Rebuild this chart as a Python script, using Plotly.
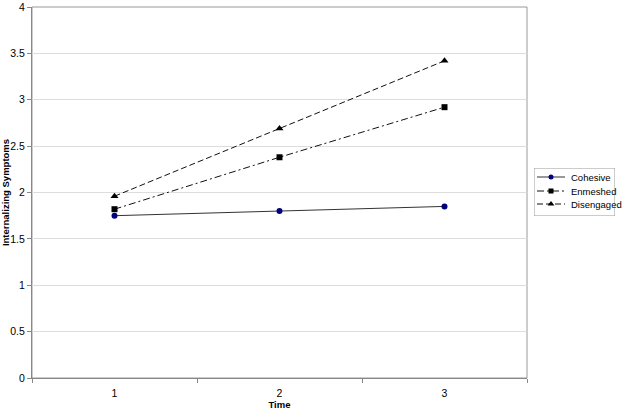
import plotly.graph_objects as go

time_labels = ["1", "2", "3"]
cohesive = [1.75, 1.80, 1.85]
enmeshed = [1.82, 2.38, 2.92]
disengaged = [1.96, 2.69, 3.42]
series_names = ["Cohesive", "Enmeshed", "Disengaged"]

W, H = 625, 414
L, R, T, B = 32, 0, 7, 36
plot_right = 527
pw = W - L - R
ph = H - T - B

styles = [
    dict(line=dict(color="#333333", width=1), marker=dict(symbol="circle", size=6, color="#000080")),
    dict(line=dict(color="#111111", width=1, dash="7px,3px,2px,3px"), marker=dict(symbol="square", size=6, color="#000000")),
    dict(line=dict(color="#111111", width=1, dash="6px,3px"), marker=dict(symbol="triangle-up", size=7, color="#000000")),
]

fig = go.Figure()
for name, vals, st in zip(series_names, [cohesive, enmeshed, disengaged], styles):
    fig.add_trace(go.Scatter(x=time_labels, y=vals, name=name, mode="lines+markers",
                             line=st["line"], marker=st["marker"], showlegend=False,
                             xaxis="x", yaxis="y"))

# legend (drawn in a hidden pixel-like axis pair)
leg_x0, leg_x1, leg_y0, leg_y1 = 534, 615, 168, 216
row_y = [177, 191, 204]
for name, st, ry in zip(series_names, styles, row_y):
    fig.add_trace(go.Scatter(x=[537, 565], y=[ry, ry], mode="lines", line=st["line"],
                             showlegend=False, hoverinfo="skip", xaxis="x2", yaxis="y2"))
    m = dict(st["marker"])
    m["size"] = m["size"] - 1
    fig.add_trace(go.Scatter(x=[551], y=[ry], mode="markers", marker=m,
                             showlegend=False, hoverinfo="skip", xaxis="x2", yaxis="y2"))
    fig.add_annotation(x=569, y=ry, xref="x2", yref="y2", text=name, showarrow=False,
                       xanchor="left", yanchor="middle", font=dict(size=9.5, color="#000000"))
fig.add_shape(type="rect", xref="x2", yref="y2", x0=leg_x0, x1=leg_x1, y0=leg_y0, y1=leg_y1,
              line=dict(color="#999999", width=1))

fig.update_layout(
    width=W, height=H,
    margin=dict(l=L, r=R, t=T, b=B),
    paper_bgcolor="white", plot_bgcolor="white",
    font=dict(family="Liberation Sans, Arial, sans-serif", size=10.5, color="#000000"),
    showlegend=False,
    xaxis=dict(type="category", tickson="boundaries", ticks="outside", ticklen=4,
               tickcolor="#888888", showline=True, linecolor="#888888", linewidth=1,
               showgrid=False, zeroline=False, automargin=False,
               domain=[0, (plot_right - L) / pw], ticklabelstandoff=5,
               title=dict(text="<b>Time</b>", font=dict(size=9.5), standoff=3),
               range=[-0.5, 2.5]),
    yaxis=dict(range=[0, 4], dtick=0.5, ticks="outside", ticklen=4, tickcolor="#888888",
               showline=True, linecolor="#888888", linewidth=1, automargin=False,
               showgrid=True, gridcolor="#DDDDDD", gridwidth=1, zeroline=False,
               title=dict(text="<b>Internalizing Symptoms</b>", font=dict(size=9.5), standoff=3)),
    xaxis2=dict(domain=[(leg_x0 - L) / pw, (leg_x1 - L) / pw], range=[leg_x0, leg_x1],
                visible=False, fixedrange=True, anchor="y2"),
    yaxis2=dict(domain=[(H - B - leg_y1) / ph, (H - B - leg_y0) / ph], range=[leg_y1, leg_y0],
                visible=False, fixedrange=True, anchor="x2"),
)
# plot area border (top & right)
fig.add_shape(type="rect", xref="x domain", yref="y domain", x0=0, y0=0, x1=1, y1=1,
              line=dict(color="#999999", width=1), layer="below")

fig.write_html("out.html", config={"displayModeBar": False},
               post_script="document.body.style.margin='0';document.body.style.overflow='hidden';")
